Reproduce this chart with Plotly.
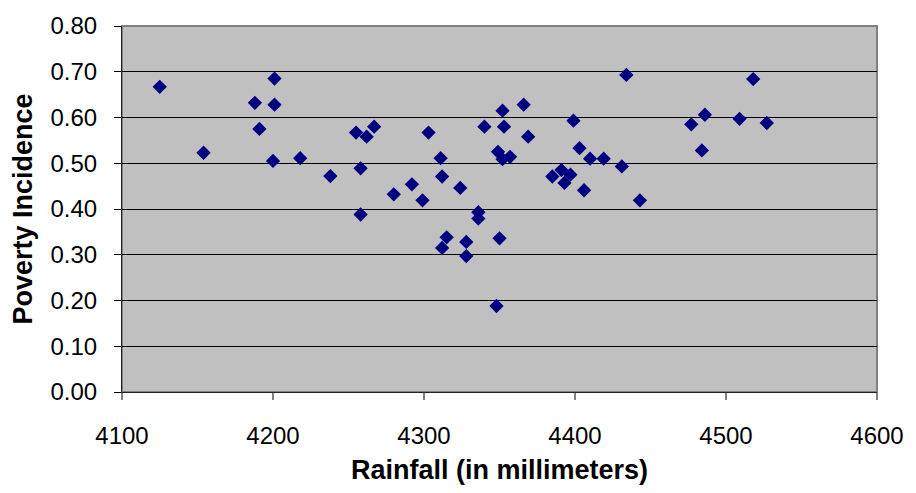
import plotly.graph_objects as go

rainfall = [4125, 4154, 4188, 4191, 4200, 4201, 4201, 4218, 4238, 4255,
            4258, 4258, 4262, 4267, 4280, 4292, 4299, 4303, 4311, 4312,
            4312, 4315, 4324, 4328, 4328, 4336, 4336, 4340, 4348, 4349,
            4350, 4352, 4352, 4353, 4357, 4366, 4369, 4385, 4391, 4393,
            4397, 4399, 4403, 4406, 4410, 4419, 4431, 4434, 4443, 4477,
            4484, 4486, 4509, 4518, 4527]
poverty = [0.667, 0.523, 0.632, 0.575, 0.505, 0.685, 0.628, 0.511, 0.472, 0.567,
           0.489, 0.388, 0.558, 0.580, 0.432, 0.454, 0.419, 0.567, 0.511, 0.471,
           0.315, 0.338, 0.446, 0.328, 0.297, 0.393, 0.379, 0.580, 0.188, 0.525,
           0.336, 0.615, 0.509, 0.580, 0.514, 0.628, 0.558, 0.471, 0.485, 0.457,
           0.475, 0.593, 0.533, 0.441, 0.510, 0.510, 0.493, 0.693, 0.419, 0.585,
           0.528, 0.606, 0.597, 0.684, 0.588]

x_ticks = [4100, 4200, 4300, 4400, 4500, 4600]
y_ticks = [0.0, 0.1, 0.2, 0.3, 0.4, 0.5, 0.6, 0.7, 0.8]

fig = go.Figure()
fig.add_trace(go.Scatter(
    x=rainfall, y=poverty, mode="markers",
    marker=dict(symbol="diamond", size=11, color="#000080",
                line=dict(width=0)),
    showlegend=False, hoverinfo="x+y"))

fig.add_shape(type="rect", xref="paper", yref="paper", x0=0, x1=1, y0=0, y1=1,
              line=dict(color="#808080", width=2), layer="below")

font_family = "Liberation Sans, Arial, sans-serif"
fig.update_layout(
    width=916, height=493,
    margin=dict(l=122, r=36, t=22, b=101),
    paper_bgcolor="white", plot_bgcolor="#C0C0C0",
    font=dict(family=font_family, color="black", size=24),
    xaxis=dict(
        range=[4100, 4600], tickvals=x_ticks, ticktext=[str(v) for v in x_ticks],
        showgrid=False, zeroline=False,
        showline=True, linecolor="#222222", linewidth=1,
        ticks="outside", ticklen=7, tickcolor="#808080", tickwidth=2,
        ticklabelstandoff=15,
        tickfont=dict(size=24),
        title=dict(text="<b>Rainfall (in millimeters)</b>", font=dict(size=27),
                   standoff=12),
    ),
    yaxis=dict(
        range=[0, 0.8], tickvals=y_ticks, ticktext=[f"{v:.2f}" for v in y_ticks],
        showgrid=True, gridcolor="black", gridwidth=1,
        zeroline=False,
        showline=True, linecolor="#222222", linewidth=1,
        ticks="outside", ticklen=7, tickcolor="black", tickwidth=1,
        ticklabelstandoff=12,
        tickfont=dict(size=24),
        title=dict(text="<b>Poverty Incidence</b>", font=dict(size=27),
                   standoff=10),
    ),
)

fig.write_html("out.html")
